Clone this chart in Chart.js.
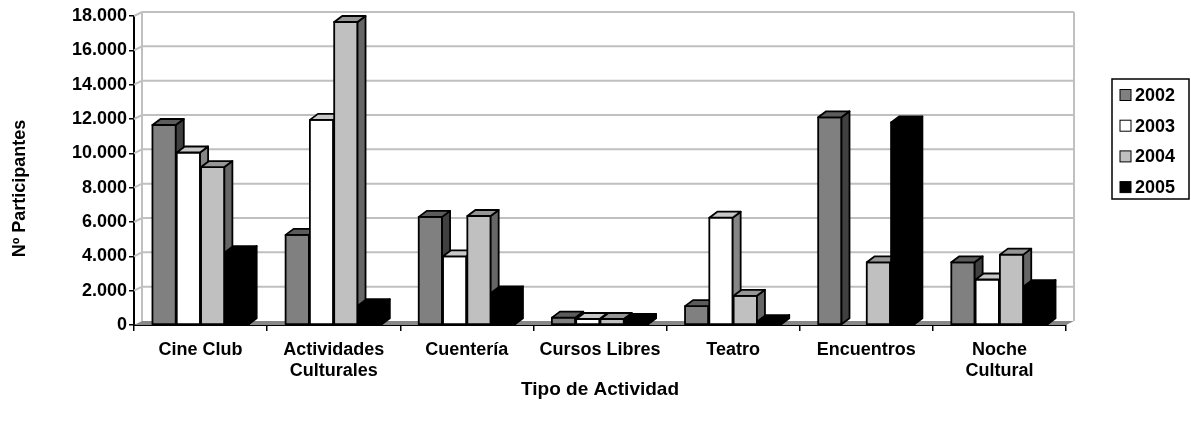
<!DOCTYPE html>
<html lang="es">
<head>
<meta charset="utf-8">
<title>Participantes por tipo de actividad</title>
<script src="https://cdn.jsdelivr.net/npm/chart.js@4.4.1/dist/chart.umd.min.js"></script>
<style>
  html, body { margin: 0; padding: 0; background: #fff; }
  #wrap { position: relative; width: 1191px; height: 427px; }
</style>
</head>
<body>
<div id="wrap"><canvas id="grafico"></canvas></div>
<script>
// datos
const categorias = ['Cine Club', ['Actividades', 'Culturales'], 'Cuentería', 'Cursos Libres', 'Teatro', 'Encuentros', ['Noche', 'Cultural']];
const anios = ['2002', '2003', '2004', '2005'];
const datos2002 = [11650, 5250, 6300, 430, 1100, 12100, 3650];
const datos2003 = [10050, 11950, 4000, 350, 6250, null, 2650];
const datos2004 = [9200, 17650, 6350, 350, 1700, 3650, 4100];
const datos2005 = [4250, 1150, 1900, 290, 230, 11800, 2270];
const ejeYMin = 0;
const ejeYMax = 18000;
const ejeYPaso = 2000;

const tituloX = 'Tipo de Actividad';
const tituloY = 'Nº Participantes';

const FUENTE = '"Liberation Sans", Arial, sans-serif';

// colores de cada cara (frente, tapa, lado)
const frentes = ['#808080', '#ffffff', '#c0c0c0', '#000000'];
const tapas = ['#5c5c5c', '#c8c8c8', '#969696', '#000000'];
const lados = ['#404040', '#858585', '#666666', '#000000'];

// profundidad 3D
const BX = 8, BY = -6;   // barras
const PX = 8, PY = -4;   // paredes y piso

function formatoMiles(v) {
    return String(v).replace(/\B(?=(\d{3})+(?!\d))/g, '.');
}

function poligono(ctx, pts, relleno) {
    ctx.beginPath();
    ctx.moveTo(pts[0][0], pts[0][1]);
    for (let i = 1; i < pts.length; i++) ctx.lineTo(pts[i][0], pts[i][1]);
    ctx.closePath();
    ctx.fillStyle = relleno;
    ctx.fill();
    ctx.stroke();
}

const barras3D = {
    id: 'barras3D',
    beforeDatasetsDraw(chart) {
        const ctx = chart.ctx;
        const a = chart.chartArea;
        const y = chart.scales.y;
        ctx.save();
        // líneas de la pared del fondo y de la pared izquierda
        ctx.strokeStyle = '#c0c0c0';
        ctx.lineWidth = 2;
        y.ticks.forEach(t => {
            if (t.value === 0) return;
            const py = y.getPixelForValue(t.value);
            ctx.beginPath();
            ctx.moveTo(a.left, py);
            ctx.lineTo(a.left + PX, py + PY);
            ctx.lineTo(a.right + PX, py + PY);
            ctx.stroke();
        });
        const arriba = y.getPixelForValue(ejeYMax) + PY;
        const abajo = y.getPixelForValue(0) + PY;
        ctx.beginPath();
        ctx.moveTo(a.left + PX, arriba);
        ctx.lineTo(a.left + PX, abajo);
        ctx.moveTo(a.right + PX, arriba);
        ctx.lineTo(a.right + PX, abajo);
        ctx.stroke();
        // piso
        const base = y.getPixelForValue(0);
        ctx.fillStyle = '#888888';
        ctx.beginPath();
        ctx.moveTo(a.left, base);
        ctx.lineTo(a.left + PX, base + PY);
        ctx.lineTo(a.right + PX, base + PY);
        ctx.lineTo(a.right, base);
        ctx.closePath();
        ctx.fill();
        ctx.restore();
    },
    afterDatasetsDraw(chart) {
        // cada año en orden: el frente del siguiente tapa el lado del anterior
        const ctx = chart.ctx;
        ctx.save();
        ctx.strokeStyle = '#000';
        ctx.lineWidth = 1.8;
        ctx.lineJoin = 'round';
        chart.data.datasets.forEach((ds, idx) => {
            const meta = chart.getDatasetMeta(idx);
            meta.data.forEach((barra, i) => {
                if (ds.data[i] === null) return;
                const p = barra.getProps(['x', 'y', 'base', 'width'], true);
                const izq = p.x - p.width / 2;
                const der = p.x + p.width / 2;
                poligono(ctx, [[izq, p.y], [der, p.y], [der, p.base], [izq, p.base]], frentes[idx]);
                poligono(ctx, [[der, p.y], [der + BX, p.y + BY], [der + BX, p.base + BY], [der, p.base]], lados[idx]);
                poligono(ctx, [[izq, p.y], [izq + BX, p.y + BY], [der + BX, p.y + BY], [der, p.y]], tapas[idx]);
            });
        });
        ctx.restore();
    },
    afterDraw(chart) {
        const ctx = chart.ctx;
        const y = chart.scales.y;
        ctx.save();
        // título del eje Y
        ctx.fillStyle = '#000';
        ctx.font = 'bold 18px ' + FUENTE;
        ctx.textAlign = 'center';
        ctx.textBaseline = 'middle';
        ctx.translate(20, (y.top + y.bottom) / 2 + 18);
        ctx.rotate(-Math.PI / 2);
        ctx.fillText(tituloY, 0, 0);
        ctx.restore();

        // leyenda con marco
        ctx.save();
        const lx = 1112, ly = 79, lw = 77, lh = 120;
        ctx.strokeStyle = '#000';
        ctx.lineWidth = 1.5;
        ctx.strokeRect(lx, ly, lw, lh);
        ctx.font = 'bold 18px ' + FUENTE;
        ctx.textAlign = 'left';
        ctx.textBaseline = 'middle';
        chart.data.datasets.forEach((ds, i) => {
            const cy = ly + 16 + i * 30.7;
            ctx.fillStyle = frentes[i];
            ctx.fillRect(lx + 8, cy - 5.5, 11, 11);
            ctx.lineWidth = 1;
            ctx.strokeRect(lx + 8, cy - 5.5, 11, 11);
            ctx.fillStyle = '#000';
            ctx.fillText(ds.label, lx + 23, cy + 1);
        });
        ctx.restore();
    }
};

const series = [datos2002, datos2003, datos2004, datos2005];

new Chart(document.getElementById('grafico'), {
    type: 'bar',
    data: {
        labels: categorias,
        datasets: series.map((d, i) => ({
            label: anios[i],
            data: d,
            // las caras se pintan en el plugin
            backgroundColor: 'rgba(0,0,0,0)',
            borderWidth: 0,
            categoryPercentage: 0.73,
            barPercentage: 0.96
        }))
    },
    options: {
        responsive: true,
        maintainAspectRatio: false,
        animation: false,
        layout: { padding: { left: 0, top: 16, right: 125, bottom: 0 } },
        plugins: {
            legend: { display: false },
            tooltip: { enabled: false }
        },
        scales: {
            x: {
                z: 1,
                grid: { drawOnChartArea: false, drawTicks: true, tickLength: 6, color: '#000', lineWidth: 1.5 },
                border: { display: true, color: '#000', width: 2 },
                ticks: {
                    color: '#000',
                    padding: 9,
                    maxRotation: 0,
                    autoSkip: false,
                    font: { family: FUENTE, size: 18, weight: 'bold', lineHeight: 1.15 }
                },
                title: {
                    display: true,
                    text: tituloX,
                    color: '#000',
                    padding: { top: 0, bottom: 26 },
                    font: { family: FUENTE, size: 19, weight: 'bold' }
                },
                afterFit(scale) { scale.height = 102; }
            },
            y: {
                z: 1,
                min: ejeYMin,
                max: ejeYMax,
                grid: { drawOnChartArea: false, drawTicks: true, tickLength: 5, color: '#000', lineWidth: 1.5 },
                border: { display: true, color: '#000', width: 2 },
                ticks: {
                    stepSize: ejeYPaso,
                    color: '#000',
                    padding: 2,
                    font: { family: FUENTE, size: 18, weight: 'bold' },
                    callback: v => formatoMiles(v)
                },
                afterFit(scale) { scale.width = 134; }
            }
        }
    },
    plugins: [barras3D]
});
</script>
</body>
</html>
